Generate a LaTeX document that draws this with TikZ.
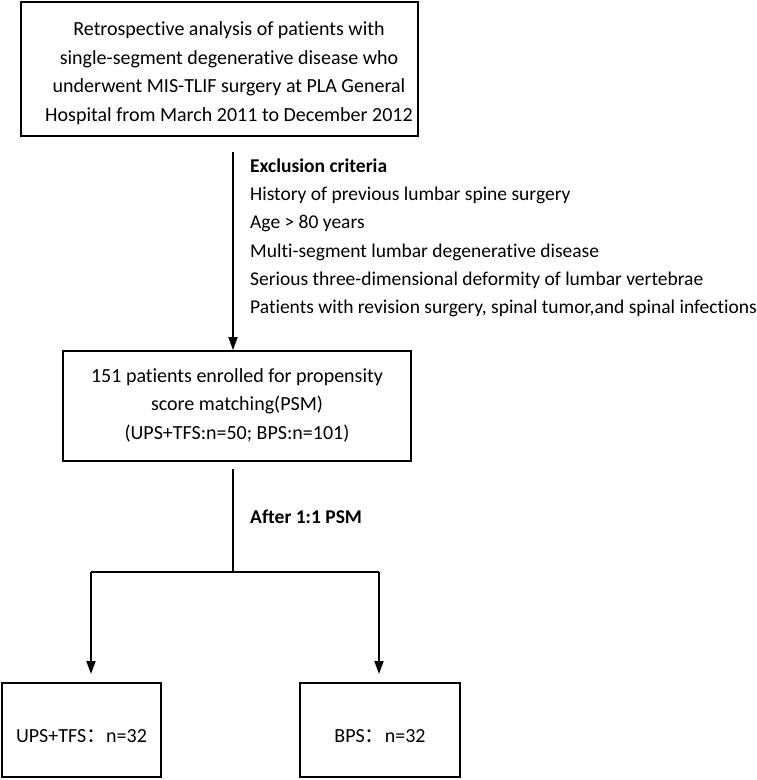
\documentclass[tikz,border=0pt]{standalone}
\usepackage{fontspec}
\setmainfont[Ligatures={NoCommon}]{Carlito}
\newfontfamily\cjk{Noto Sans CJK SC}
\usetikzlibrary{arrows.meta}
\begin{document}
\begin{tikzpicture}[x=1pt,y=-1pt,
  box/.style={draw, line width=1.8pt, inner sep=0pt, align=center, font=\fontsize{20}{28.7}\selectfont},
  conn/.style={line width=1.8pt},
  arr/.style={conn, -{Triangle[width=9pt,length=13pt]}},
  lab/.style={inner sep=0pt, align=left, font=\fontsize{19.5}{28.3}\selectfont}]
\useasboundingbox (0,0) rectangle (757,780);
\node[box, minimum width=397pt, minimum height=134pt, text depth=0pt] (b1) at (219.5,69)
  {\hspace*{19pt}\rule{0pt}{19pt}Retrospective analysis of patients with\\\hspace*{19pt}single-segment degenerative disease who\\\hspace*{19pt}underwent MIS-TLIF surgery at PLA General\\\hspace*{19pt}Hospital from March 2011 to December 2012};
\node[box, minimum width=348pt, minimum height=110pt, text depth=4pt] (b2) at (237,406)
  {151 patients enrolled for propensity\\score matching(PSM)\\(UPS+TFS:n=50; BPS:n=101)};
\node[box, minimum width=159pt, minimum height=94pt, text height=25pt, text depth=0pt] (b3) at (81.5,730)
  {UPS+TFS{\cjk ：}n=32};
\node[box, minimum width=160pt, minimum height=94pt, text height=25pt, text depth=0pt] (b4) at (380,730)
  {BPS{\cjk ：}n=32};
\coordinate (s1) at (233,152);
\draw[arr] (s1) -- (s1 |- b2.north);
\node[lab, anchor=north west] (ex) at (250,158.5)
  {\textbf{Exclusion criteria}\\History of previous lumbar spine surgery\\Age > 80 years\\Multi-segment lumbar degenerative disease\\Serious three-dimensional deformity of lumbar vertebrae\\Patients with revision surgery, spinal tumor,and spinal infections};
\coordinate (s2) at (233,469);
\coordinate (j) at (233,572);
\coordinate (l) at (91,572);
\coordinate (r) at (379,572);
\draw[conn] (s2) -- (j);
\draw[conn] (l) -- (r);
\draw[arr] (l) -- (l |- 0,674);
\draw[arr] (r) -- (r |- 0,674);
\node[lab, anchor=west, font=\bfseries\fontsize{19.5}{24}\selectfont] (after) at (250,517) {After 1:1 PSM};
\end{tikzpicture}
\end{document}
